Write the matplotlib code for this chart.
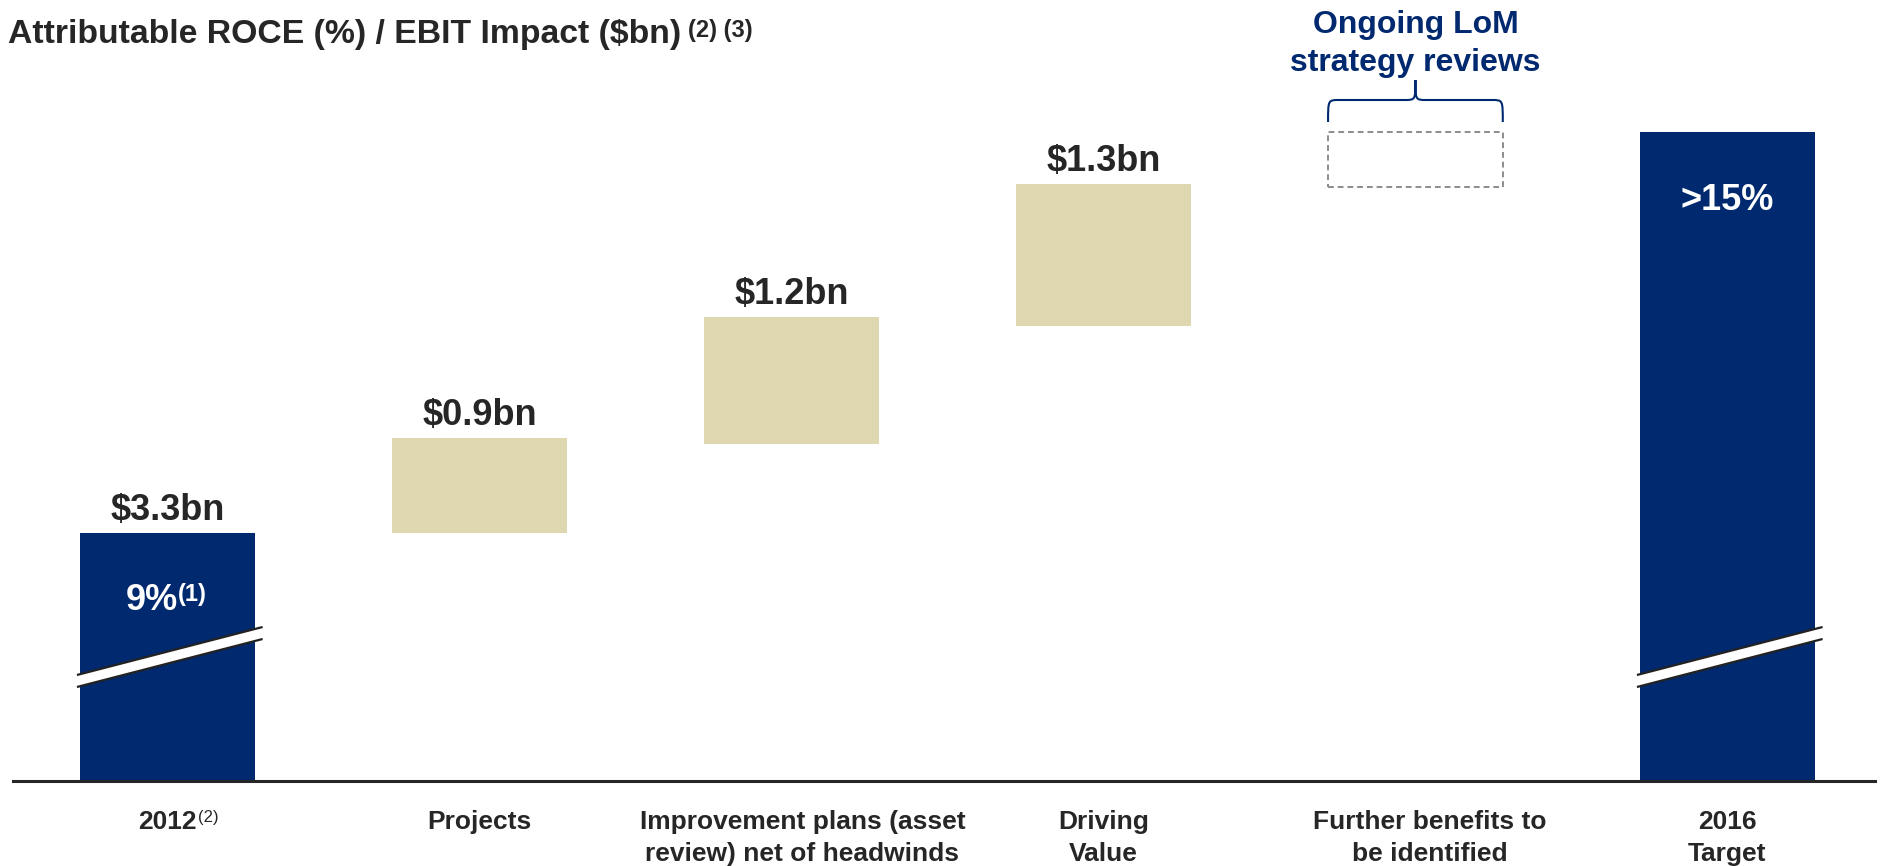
import matplotlib
matplotlib.use("Agg")
import matplotlib.pyplot as plt
from matplotlib.patches import Polygon, Rectangle, PathPatch
from matplotlib.path import Path

plt.rcParams["font.family"] = ["Liberation Sans", "DejaVu Sans"]

NAVY = "#00296F"
TAN = "#DFD7B0"
DARK = "#262626"
GREY = "#8C8C8C"

# chart data (y in drawing units, the two navy bars carry an axis break)
categories = ["2012", "Projects", "Improvement plans (asset\nreview) net of headwinds",
              "Driving\nValue", "Further benefits to\nbe identified", "2016\nTarget"]
bar_bottoms = [0, 2.48, 3.37, 4.55, 5.94, 0]
bar_heights = [2.48, 0.95, 1.27, 1.42, 0.55, 6.49]
bar_colors = [NAVY, TAN, TAN, TAN, "none", NAVY]
value_labels = ["$3.3bn", "$0.9bn", "$1.2bn", "$1.3bn", "", ""]
roce_labels = ["9%", "", "", "", "", ">15%"]
break_bars = [0, 5]

W = 0.56
label_shift = [0, 0, 0.035, 0, 0.045, 0]

fig = plt.figure(figsize=(18.87, 8.66), dpi=100)
ax = fig.add_axes([13 / 1887, 85 / 866, (1875 - 13) / 1887, 781 / 866])
ax.set_xlim(-0.495, 5.473)
ax.set_ylim(0, 7.81)
x = list(range(len(categories)))

# bars
for i in x:
    if bar_colors[i] == "none":
        ax.add_patch(Rectangle((i - W / 2, bar_bottoms[i]), W, bar_heights[i], fill=False,
                               edgecolor=GREY, lw=1.4, ls=(0, (3, 2))))
    else:
        ax.bar(i, bar_heights[i], bottom=bar_bottoms[i], width=W, color=bar_colors[i], zorder=2)

# value labels above bars
for i in x:
    if value_labels[i]:
        ax.text(i, bar_bottoms[i] + bar_heights[i] + 0.13, value_labels[i], ha="center",
                va="baseline", fontsize=26, fontweight="bold", color=DARK)

# ROCE labels inside navy bars
for i in x:
    if roce_labels[i]:
        xi = i - 0.05 if i == 0 else i
        t = ax.text(xi, bar_bottoms[i] + bar_heights[i] - 0.68, roce_labels[i], ha="center",
                    va="center", fontsize=26, fontweight="bold", color="white", zorder=5)
        if i == 0:
            ax.annotate("(1)", xy=(1, 1), xycoords=t, xytext=(0, 0), textcoords="offset points",
                        ha="left", va="top", fontsize=17, fontweight="bold", color="white", zorder=5)

# axis break marks
for i in break_bars:
    x0, x1 = i - 0.29, i + 0.305
    yl, yr, h = 1.0, 1.48, 0.06
    ax.add_patch(Polygon([(x0, yl - h), (x1, yr - h), (x1, yr + h), (x0, yl + h)],
                         closed=True, facecolor="white", edgecolor="none", zorder=3))
    for s in (-h, h):
        ax.plot([x0, x1], [yl + s, yr + s], color="#222222", lw=1.6, zorder=4,
                solid_capstyle="butt")

# brace above the dashed box
xc = 4
xl, xr = xc - W / 2, xc + W / 2
y0, yh, yt = 6.59, 6.81, 7.01
dx = 0.035
verts = [(xl, y0), (xl, yh), (xl, yh), (xl + dx, yh), (xc - dx, yh),
         (xc, yh), (xc, yh), (xc, yt),
         (xc, yh), (xc, yh), (xc + dx, yh), (xr - dx, yh),
         (xr, yh), (xr, yh), (xr, y0)]
codes = [Path.MOVETO, Path.CURVE4, Path.CURVE4, Path.CURVE4, Path.LINETO,
         Path.CURVE4, Path.CURVE4, Path.CURVE4,
         Path.CURVE4, Path.CURVE4, Path.CURVE4, Path.LINETO,
         Path.CURVE4, Path.CURVE4, Path.CURVE4]
ax.add_patch(PathPatch(Path(verts, codes), fill=False, edgecolor=NAVY, lw=1.5))
ax.text(xc, 7.56, "Ongoing LoM", ha="center", va="center", fontsize=23,
        fontweight="bold", color=NAVY)
ax.text(xc, 7.175, "strategy reviews", ha="center", va="center", fontsize=23,
        fontweight="bold", color=NAVY)

# category labels
for i in x:
    t = ax.text(i + label_shift[i], -0.29, categories[i], ha="center", va="top", fontsize=19,
                fontweight="bold", color=DARK, linespacing=1.4, clip_on=False)
    if i == 0:
        ax.annotate("(2)", xy=(1, 1), xycoords=t, xytext=(1, 0), textcoords="offset points",
                    ha="left", va="top", fontsize=12, color=DARK)

# axes styling
for side in ("top", "left", "right"):
    ax.spines[side].set_visible(False)
ax.spines["bottom"].set_color(DARK)
ax.spines["bottom"].set_linewidth(2.2)
ax.spines["bottom"].set_zorder(6)
ax.set_xticks([])
ax.set_yticks([])

# title
title = fig.text(0.004, 1 - 35 / 866, "Attributable ROCE (%) / EBIT Impact ($bn)", ha="left",
                 va="center", fontsize=24.3, fontweight="bold", color=DARK)
ax.annotate("(2) (3)", xy=(1, 1), xycoords=title, xytext=(5, 0), textcoords="offset points",
            ha="left", va="top", fontsize=17, fontweight="bold", color=DARK, annotation_clip=False)

fig.savefig("out.png", dpi=100)
